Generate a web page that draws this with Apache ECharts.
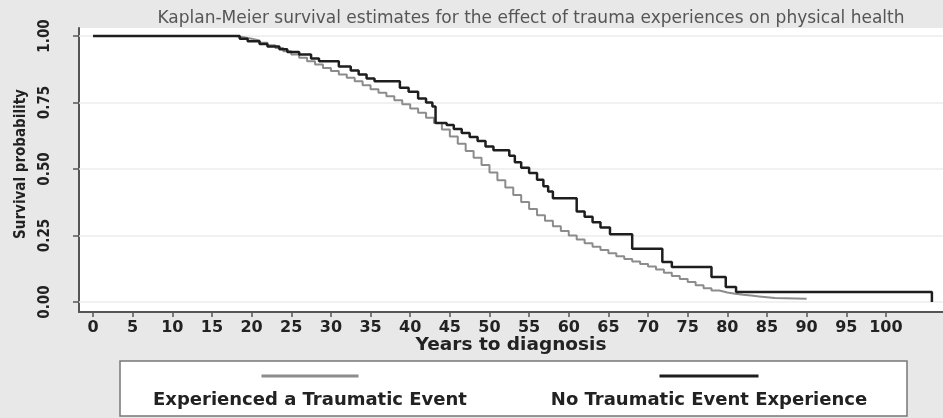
<!DOCTYPE html>
<html>
<head>
<meta charset="utf-8">
<script src="https://cdn.jsdelivr.net/npm/echarts@6/dist/echarts.min.js"></script>
<style>
html,body{margin:0;padding:0;background:#e8e8e8;}
#c{width:943px;height:418px;}
</style>
</head>
<body>
<div id="c"></div>
<script>
// ---- data ----
const titleText = 'Kaplan-Meier survival estimates for the effect of trauma experiences on physical health';
const xTicks = [0,5,10,15,20,25,30,35,40,45,50,55,60,65,70,75,80,85,90,95,100];
const yTicks = [0,0.25,0.5,0.75,1];
const nameExp = 'Experienced a Traumatic Event';
const nameNo = 'No Traumatic Event Experience';

const yearsExp = [0,18,19,20,21,22,23,24,25,26,27,28,29,30,31,32,33,34,35,36,37,38,39,40,41,42,43,44,45,46,47,48,49,50,51,52,53,54,55,56,57,58,59,60,61,62,63,64,65,66,67,68,69,70,71,72,73,74,75,76,77,78,79,80,81,82,83,84,85,86,90];
const survExp = [1,0.995,0.99,0.983,0.975,0.965,0.955,0.943,0.93,0.918,0.905,0.893,0.88,0.868,0.855,0.843,0.83,0.815,0.80,0.787,0.773,0.758,0.743,0.727,0.711,0.693,0.673,0.648,0.622,0.595,0.568,0.542,0.515,0.487,0.458,0.43,0.402,0.376,0.35,0.326,0.305,0.285,0.267,0.25,0.235,0.221,0.208,0.195,0.183,0.172,0.162,0.152,0.143,0.133,0.122,0.11,0.098,0.086,0.075,0.063,0.052,0.043,0.036,0.031,0.027,0.024,0.021,0.018,0.015,0.012,0.012];

const yearsNo = [0,18.5,19.5,21,22,23.5,24.5,26,27.5,28.5,31,32.5,33.5,34.5,35.5,38.7,39.8,41,42,42.8,43.2,44.6,45.5,46.5,47.5,48.5,49.5,50.5,52.5,53.2,54,55,56,56.8,57.4,58,61,62,63,64,65.2,68,71.8,73,78,79.8,81.1,105.8];
const survNo = [1,0.99,0.98,0.97,0.96,0.95,0.94,0.93,0.915,0.905,0.885,0.87,0.855,0.84,0.83,0.805,0.79,0.765,0.75,0.735,0.673,0.665,0.65,0.635,0.62,0.605,0.585,0.57,0.55,0.525,0.505,0.485,0.46,0.435,0.415,0.39,0.34,0.32,0.30,0.28,0.255,0.20,0.15,0.132,0.094,0.056,0.038,0];

const zip = (xs, ys) => xs.map((x, i) => [x, ys[i]]);
const labelFont = '"DejaVu Sans", "Liberation Sans", sans-serif';
const narrowFont = '"Liberation Sans Narrow", "DejaVu Sans Condensed", "Liberation Sans", sans-serif';
const grayCol = '#8c8c8c';
const blackCol = '#1e1e1e';

const chart = echarts.init(document.getElementById('c'));
chart.setOption({
  backgroundColor: '#e8e8e8',
  animation: false,
  title: {
    text: titleText,
    left: 526, top: 5, textAlign: 'center',
    textStyle: {fontFamily: labelFont, fontSize: 17, fontWeight: 'normal', color: '#555'}
  },
  grid: {left: 79, right: 0, top: 28, bottom: 106, show: true, backgroundColor: '#ffffff', borderWidth: 0},
  xAxis: {
    type: 'value', min: -1.77, max: 107.2,
    name: 'Years to diagnosis', nameLocation: 'middle', nameGap: 24, nameMoveOverlap: false,
    nameTextStyle: {fontFamily: labelFont, fontSize: 18.5, fontWeight: 'bold', color: '#222'},
    axisLine: {show: true, onZero: false, lineStyle: {color: '#555', width: 2}},
    axisTick: {show: true, length: 5, customValues: xTicks, lineStyle: {color: '#555', width: 1.5}},
    axisLabel: {customValues: xTicks, margin: 8, fontFamily: labelFont, fontSize: 16, fontWeight: 'bold', color: '#222'},
    splitLine: {show: false}
  },
  yAxis: {
    type: 'value', min: -0.0376, max: 1.03,
    name: 'Survival probability', nameLocation: 'middle', nameGap: 50, nameRotate: 90,
    nameTextStyle: {fontFamily: narrowFont, fontSize: 15, fontWeight: 'bold', color: '#222', padding: [0, 0, 0, 12]},
    axisLine: {show: true, onZero: false, lineStyle: {color: '#555', width: 2}},
    axisTick: {show: true, length: 6, customValues: yTicks, lineStyle: {color: '#555', width: 1.5}},
    axisLabel: {customValues: yTicks, rotate: 90, margin: 26, fontFamily: narrowFont, fontSize: 15, fontWeight: 'bold', color: '#222',
      formatter: v => v.toFixed(2)},
    splitLine: {show: false}
  },
  legend: {
    data: [nameExp, nameNo],
    left: 120, top: 361,
    padding: [9, 19, 7, 6],
    itemGap: 36,
    itemWidth: 0, itemHeight: 0, icon: 'none',
    backgroundColor: '#ffffff', borderColor: '#777', borderWidth: 1.5,
    formatter: name => (name === nameExp ? '{g| }' : '{b| }') + '\n{t|' + name + '}',
    textStyle: {
      rich: {
        g: {width: 97, height: 3, lineHeight: 24, backgroundColor: grayCol, align: 'center'},
        b: {width: 99, height: 3, lineHeight: 24, backgroundColor: blackCol, align: 'center'},
        t: {fontFamily: labelFont, fontSize: 18, fontWeight: 'bold', color: '#222', lineHeight: 24, width: 358, align: 'center'}
      }
    }
  },
  series: [
    {
      name: nameExp, type: 'line', step: 'end', showSymbol: false, z: 3,
      data: zip(yearsExp, survExp),
      lineStyle: {color: grayCol, width: 2},
      itemStyle: {color: grayCol},
      markLine: {
        silent: true, symbol: 'none', label: {show: false}, z: 1,
        lineStyle: {color: '#ececec', width: 1.5, type: 'solid'},
        data: yTicks.map(v => ({yAxis: v}))
      }
    },
    {
      name: nameNo, type: 'line', step: 'end', showSymbol: false, z: 4,
      data: zip(yearsNo, survNo),
      lineStyle: {color: blackCol, width: 2.5},
      itemStyle: {color: blackCol}
    }
  ]
});
</script>
</body>
</html>
